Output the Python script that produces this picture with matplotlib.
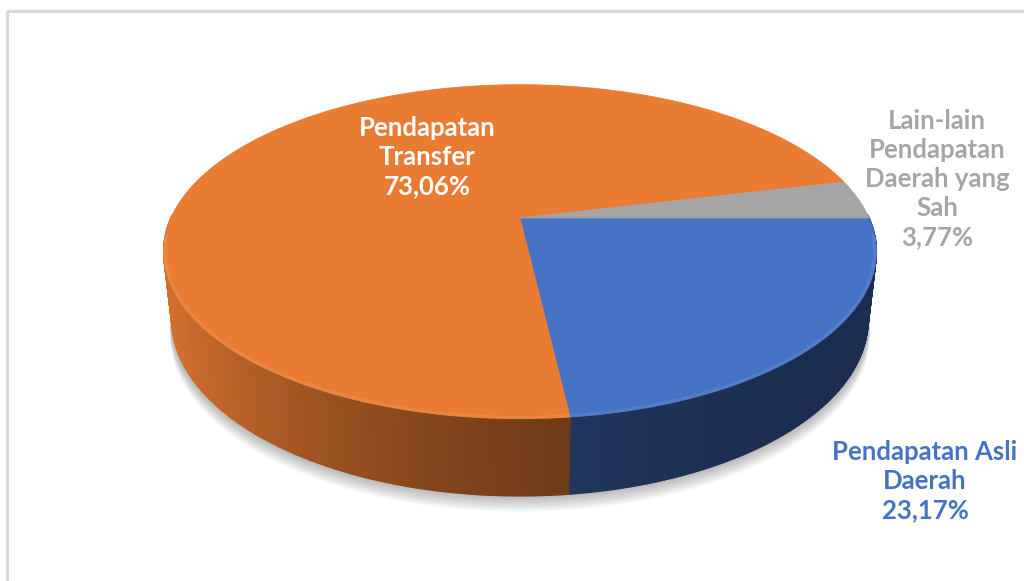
import numpy as np
import matplotlib.pyplot as plt
from matplotlib.collections import PolyCollection
from matplotlib.patches import Rectangle, Polygon

# data
labels = ['Pendapatan Asli\nDaerah', 'Pendapatan\nTransfer', 'Lain-lain\nPendapatan\nDaerah yang\nSah']
values = [23.17, 73.06, 3.77]
colors = ['#4472C4', '#E97B33', '#A5A5A5']
label_colors = ['#4472C4', '#FFFFFF', '#A5A5A5']
label_pos = [(925, 481), (427, 157), (937, 179)]

# camera for the 3d pie (pixel space)
cx0, cy0 = 520, 218
D = 4.42
tilt = np.radians(27.3)
f = 1543
h = 0.22


def project(X, Y, Z):
    d = D + Y * np.cos(tilt) - Z * np.sin(tilt)
    sx = cx0 + f * X / d
    sy = cy0 - f * (Y * np.sin(tilt) + Z * np.cos(tilt)) / d
    return sx, sy, d


def shade(th):
    # light from the left-front
    return 0.40 + 0.52 * ((1 + np.cos(th - np.radians(190))) / 2) ** 3


def scale(c, k):
    rgb = np.array(plt.matplotlib.colors.to_rgb(c))
    return tuple(np.clip(rgb * k, 0, 1))


def lighten(c, k):
    rgb = np.array(plt.matplotlib.colors.to_rgb(c))
    return tuple(rgb + (1 - rgb) * k)


fig = plt.figure(figsize=(10.24, 5.81), dpi=100)
ax = fig.add_axes([0, 0, 1, 1])
ax.set_xlim(0, 1024)
ax.set_ylim(581, 0)
ax.axis('off')

ax.add_patch(Rectangle((7, 11), 1100, 700, fill=False, edgecolor='#D9D9D9', linewidth=2.2))

# slice angles, clockwise from 3 o'clock
bounds = [0.0]
for v in values:
    bounds.append(bounds[-1] - 2 * np.pi * v / 100)

# soft shadow under the pie
t = np.linspace(np.pi, 2 * np.pi, 200)
for off in np.linspace(2, 16, 8):
    sx, sy, _ = project(np.cos(t) * 1.005, np.sin(t), -h)
    pts = np.column_stack([np.r_[sx, sx[::-1]], np.r_[sy + off, sy[::-1] - 40]])
    ax.add_patch(Polygon(pts, closed=True, facecolor='#000000', alpha=0.035, edgecolor='none'))

# side walls
quads, qcols, qdepth = [], [], []
for i in range(len(values)):
    a0, a1 = bounds[i], bounds[i + 1]
    n = max(int(abs(a1 - a0) / np.radians(0.5)), 2)
    th = np.linspace(a0, a1, n + 1)
    for j in range(n):
        ta, tb = th[j], th[j + 1]
        tm = (ta + tb) / 2
        if np.sin(tm) >= 0.02:
            continue
        xa, ya, _ = project(np.cos(ta), np.sin(ta), 0)
        xb, yb, _ = project(np.cos(tb), np.sin(tb), 0)
        xc, yc, _ = project(np.cos(tb), np.sin(tb), -h)
        xd, yd, _ = project(np.cos(ta), np.sin(ta), -h)
        _, _, dm = project(np.cos(tm), np.sin(tm), -h / 2)
        quads.append([(xa, ya), (xb, yb), (xc, yc), (xd, yd)])
        qcols.append(scale(colors[i], shade(tm % (2 * np.pi))))
        qdepth.append(dm)

order = np.argsort(qdepth)[::-1]
pc = PolyCollection([quads[k] for k in order], facecolors=[qcols[k] for k in order],
                    edgecolors=[qcols[k] for k in order], linewidths=1.0)
ax.add_collection(pc)

# top faces
for i in range(len(values)):
    th = np.linspace(bounds[i], bounds[i + 1], 300)
    sx, sy, _ = project(np.cos(th), np.sin(th), 0)
    pts = np.column_stack([np.r_[cx0, sx], np.r_[cy0, sy]])
    ax.add_patch(Polygon(pts, closed=True, facecolor=colors[i], edgecolor=colors[i], linewidth=0.6))

# soft bevel along the front rim
for i in range(len(values)):
    th = np.linspace(bounds[i], bounds[i + 1], 300)
    th = th[np.sin(th) < -0.1]
    if len(th) < 2:
        continue
    sx, sy, _ = project(np.cos(th) * 0.996, np.sin(th) * 0.996, 0)
    ax.plot(sx, sy, color=lighten(colors[i], 0.10), linewidth=2.5, alpha=0.8,
            solid_capstyle='butt')

# labels
for lab, v, c, (x, y) in zip(labels, values, label_colors, label_pos):
    txt = lab + '\n' + f'{v:.2f}'.replace('.', ',') + '%'
    ax.text(x, y, txt, color=c, ha='center', va='center', fontsize=18.5,
            fontweight='bold', family='Lato', linespacing=1.25)

fig.savefig('out.png', dpi=100)
